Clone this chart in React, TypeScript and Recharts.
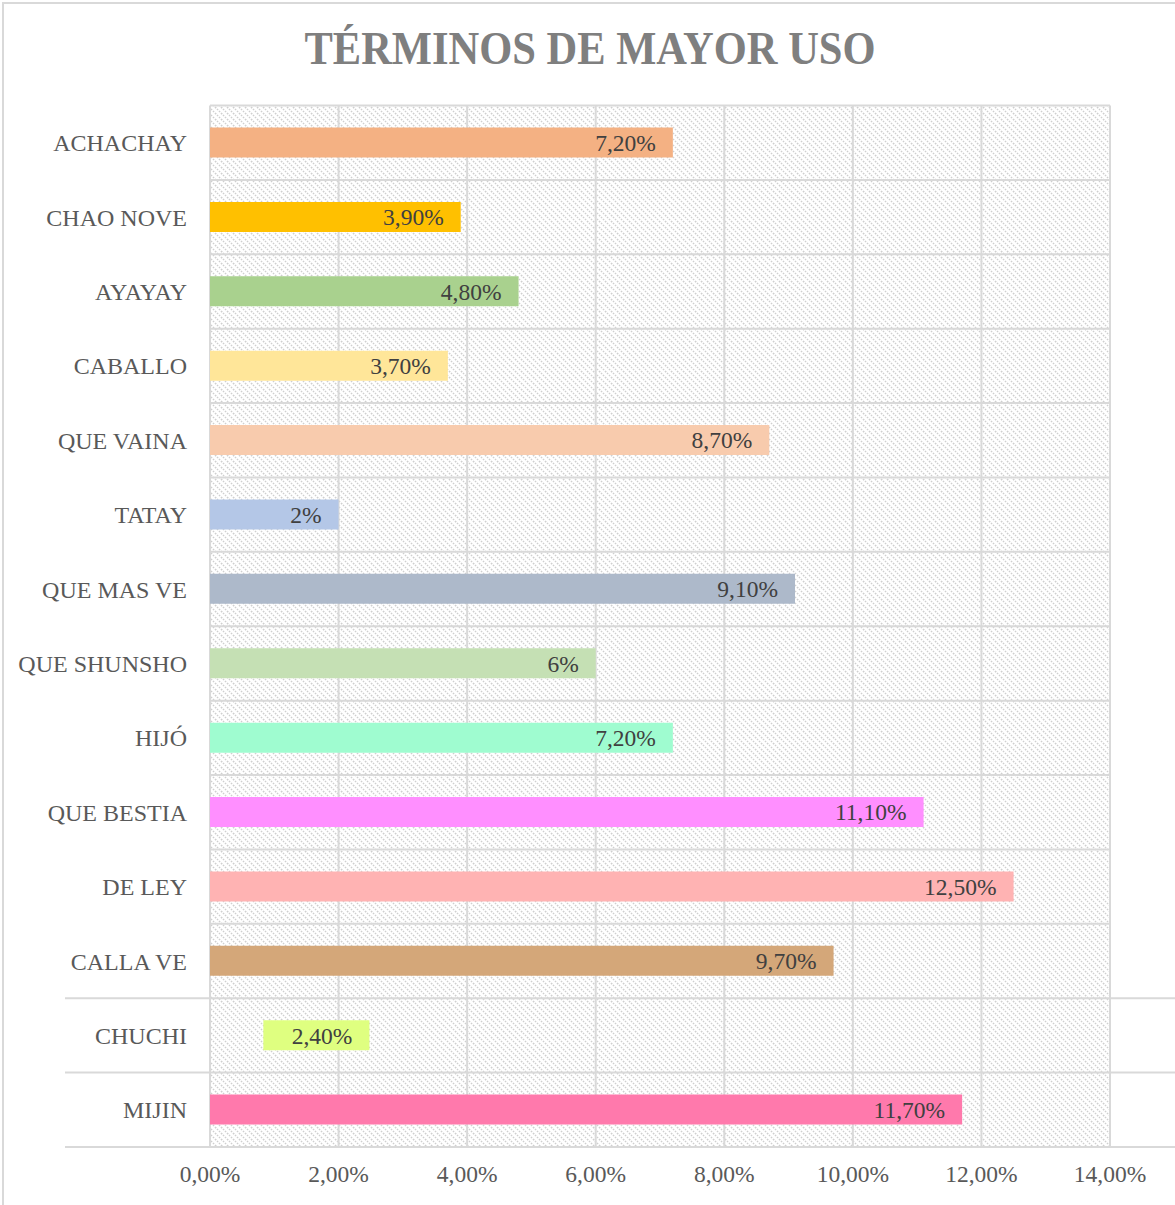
import React from "react";
import { BarChart, Bar, XAxis, YAxis, CartesianGrid, Cell, LabelList } from "recharts";

const categories = ["ACHACHAY", "CHAO NOVE", "AYAYAY", "CABALLO", "QUE VAINA", "TATAY", "QUE MAS VE", "QUE SHUNSHO", "HIJÓ", "QUE BESTIA", "DE LEY", "CALLA VE", "CHUCHI", "MIJIN"];
const barStarts = [0, 0, 0, 0, 0, 0, 0, 0, 0, 0, 0, 0, 0.83, 0];
const barEnds = [7.2, 3.9, 4.8, 3.7, 8.7, 2, 9.1, 6, 7.2, 11.1, 12.5, 9.7, 2.48, 11.7];
const valueLabels = ["7,20%", "3,90%", "4,80%", "3,70%", "8,70%", "2%", "9,10%", "6%", "7,20%", "11,10%", "12,50%", "9,70%", "2,40%", "11,70%"];
const barColors = ["#F4B183", "#FFC000", "#A9D18E", "#FFE699", "#F8CBAD", "#B4C7E7", "#ADB9CA", "#C5E0B4", "#9FFCD0", "#FF8FFF", "#FFB3B3", "#D4A779", "#DFFF80", "#FF79AC"];
const xTicks = [0, 2, 4, 6, 8, 10, 12, 14];

const data = categories.map((name, i) => ({
  name,
  range: [barStarts[i], barEnds[i]],
  label: valueLabels[i],
}));

const fmtPct = (v: number) => v.toFixed(2).replace(".", ",") + "%";

const SERIF = "'Liberation Serif', 'Times New Roman', serif";

const HLine = (props: any) => {
  const { x1, x2, y1, y2, index } = props;
  const extend = index >= 12;
  return (
    <line
      x1={extend ? x1 - 145 : x1}
      x2={extend ? x2 + 65 : x2}
      y1={y1}
      y2={y2}
      stroke="#d9d9d9"
      strokeWidth={2}
    />
  );
};

export default function App() {
  return (
    <div style={{ position: "absolute", left: 0, top: 0, width: 1175, height: 1205, overflow: "hidden", background: "#fff" }}>
      <svg width={0} height={0} style={{ position: "absolute" }}>
        <defs>
          <pattern id="hatch" width="6" height="6" patternUnits="userSpaceOnUse">
            <rect width="6" height="6" fill="#ffffff" />
            <path d="M-1,-1 L7,7" stroke="#cfcfcf" strokeWidth={1.4} strokeDasharray="1.6 1.2" />
            <path d="M-1,5 L1,7 M5,-1 L7,1" stroke="#cfcfcf" strokeWidth={1.4} />
          </pattern>
        </defs>
      </svg>
      <div
        style={{
          position: "absolute",
          left: 2,
          top: 2,
          width: 1230,
          height: 1260,
          border: "2px solid #d9d9d9",
          boxSizing: "border-box",
        }}
      />
      <div
        style={{
          position: "absolute",
          left: 0,
          width: 1180,
          top: 26,
          textAlign: "center",
          fontFamily: SERIF,
          fontWeight: "bold",
          fontSize: 42.5,
          lineHeight: "46px",
          color: "#7f7f7f",
          transform: "scaleY(1.1)",
        }}
      >
        TÉRMINOS DE MAYOR USO
      </div>
      <div style={{ position: "absolute", left: 0, top: 0 }}>
        <BarChart
          width={1175}
          height={1205}
          data={data}
          layout="vertical"
          margin={{ top: 105.5, right: 65, bottom: 18, left: 0 }}
          barSize={30}
        >
          <CartesianGrid
            fill="url(#hatch)"
            stroke="#d9d9d9"
            strokeWidth={2}
            horizontal={HLine}
            horizontalCoordinatesGenerator={({ offset }: any) =>
              categories.map((_, i) => offset.top + (i * offset.height) / categories.length).concat([offset.top + offset.height])
            }
          />
          <XAxis
            type="number"
            domain={[0, 14]}
            ticks={xTicks}
            tickFormatter={fmtPct}
            axisLine={false}
            tickLine={false}
            tickSize={0}
            tickMargin={18}
            height={40}
            tick={{ fill: "#595959", fontSize: 23.5, fontFamily: SERIF }}
          />
          <YAxis
            type="category"
            dataKey="name"
            width={210}
            axisLine={false}
            tickLine={false}
            tickSize={0}
            tickMargin={23}
            interval={0}
            tick={{ fill: "#595959", fontSize: 24, fontFamily: SERIF }}
          />
          <Bar dataKey="range" isAnimationActive={false}>
            {data.map((d, i) => (
              <Cell key={d.name} fill={barColors[i]} />
            ))}
            <LabelList
              dataKey="label"
              position="insideRight"
              offset={17}
              fill="#404040"
              fontSize={23.5}
              fontFamily={SERIF}
            />
          </Bar>
        </BarChart>
      </div>
    </div>
  );
}
